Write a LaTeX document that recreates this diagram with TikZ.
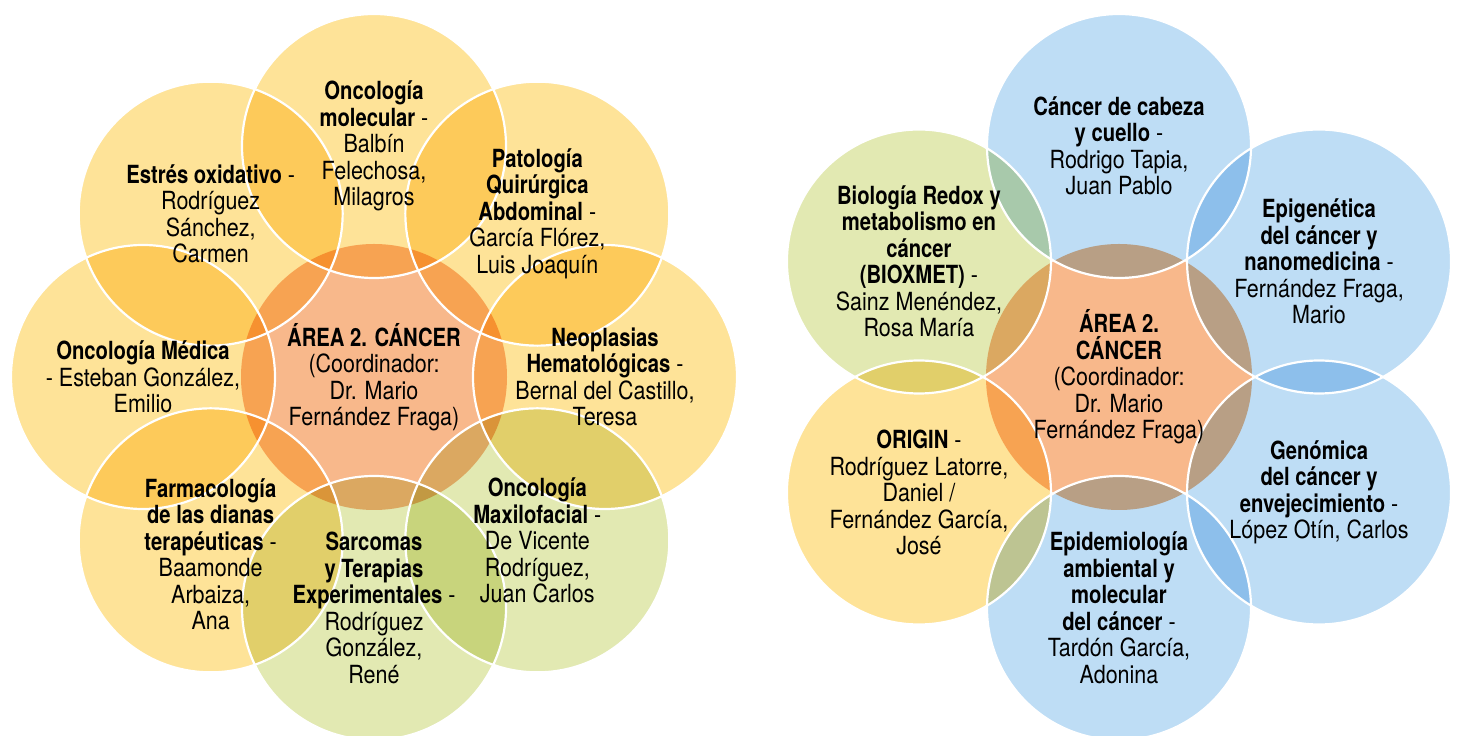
\documentclass[tikz,border=0pt]{standalone}
\usepackage{fontspec}
\setmainfont{TeX Gyre Heros}[UprightFeatures={FakeStretch=0.86},BoldFeatures={FakeStretch=0.81}]
\usetikzlibrary{positioning}
\definecolor{petalyellow}{HTML}{FEE398}
\definecolor{petalgreen}{HTML}{E2E9B2}
\definecolor{petalblue}{HTML}{BEDDF5}
\definecolor{huborange}{HTML}{F8B88B}
\tikzset{
  x=1pt, y=1pt,
  every node/.style={align=center, inner sep=0pt, font=\fontsize{25}{26.5}\selectfont},
  petal/.style={fill=#1, blend mode=multiply},
  rim/.style={draw=white, line width=2.2pt},
}
\newcommand{\petalr}{132}
\newcommand{\petald}{231}

\begin{document}
\begin{tikzpicture}
  \useasboundingbox (0,0) rectangle (1459,736);
  \coordinate (hubL) at (374,359);
  \coordinate (hubR) at (1119,359);
  \foreach \a [count=\i] in {90,45,0,-45,-90,-135,180,135}
    \path (hubL) ++(\a:\petald) coordinate (L\i);
  \foreach \a [count=\i] in {90,30,-30,-90,-150,150}
    \path (hubR) ++(\a:\petald) coordinate (R\i);

  \fill[petal=huborange] (hubL) circle[radius=133];
  \fill[petal=huborange] (hubR) circle[radius=133];
  \foreach \p/\c in {L1/petalyellow, L2/petalyellow, L3/petalyellow, L4/petalgreen,
                     L5/petalgreen, L6/petalyellow, L7/petalyellow, L8/petalyellow,
                     R1/petalblue, R2/petalblue, R3/petalblue, R4/petalblue,
                     R5/petalyellow, R6/petalgreen}
    \fill[petal=\c] (\p) circle[radius=\petalr];
  \foreach \p in {L1,L2,L3,L4,L5,L6,L7,L8,R1,R2,R3,R4,R5,R6}
    \draw[rim] (\p) circle[radius=\petalr];

  \node (tL0) at (hubL) {\textbf{ÁREA 2. CÁNCER}\\(Coordinador:\\Dr. Mario\\Fernández Fraga)};
  \node (tL1) at (L1) {\textbf{Oncología}\\\textbf{molecular} -\\Balbín\\Felechosa,\\Milagros};
  \node (tL2) at (L2) {\textbf{Patología}\\\textbf{Quirúrgica}\\\textbf{Abdominal} -\\García Flórez,\\Luis Joaquín};
  \node (tL3) at (L3) {\textbf{Neoplasias}\\\textbf{Hematológicas} -\\Bernal del Castillo,\\Teresa};
  \node (tL4) at (L4) {\textbf{Oncología}\\\textbf{Maxilofacial} -\\De Vicente\\Rodríguez,\\Juan Carlos};
  \node (tL5) at (L5) {\textbf{Sarcomas}\\\textbf{y Terapias}\\\textbf{Experimentales} -\\Rodríguez\\González,\\René};
  \node[yshift=-14] (tL6) at (L6) {\textbf{Farmacología}\\\textbf{de las dianas}\\\textbf{terapéuticas} -\\Baamonde\\Arbaiza,\\Ana};
  \node (tL7) at (L7) {\textbf{Oncología Médica}\\- Esteban González,\\Emilio};
  \node (tL8) at (L8) {\textbf{Estrés oxidativo} -\\Rodríguez\\Sánchez,\\Carmen};

  \node (tR0) at (hubR) {\textbf{ÁREA 2.}\\\textbf{CÁNCER}\\(Coordinador:\\Dr. Mario\\Fernández Fraga)};
  \node (tR1) at (R1) {\textbf{Cáncer de cabeza}\\\textbf{y cuello} -\\Rodrigo Tapia,\\Juan Pablo};
  \node (tR2) at (R2) {\textbf{Epigenética}\\\textbf{del cáncer y}\\\textbf{nanomedicina} -\\Fernández Fraga,\\Mario};
  \node (tR3) at (R3) {\textbf{Genómica}\\\textbf{del cáncer y}\\\textbf{envejecimiento} -\\López Otín, Carlos};
  \node (tR4) at (R4) {\textbf{Epidemiología}\\\textbf{ambiental y}\\\textbf{molecular}\\\textbf{del cáncer} -\\Tardón García,\\Adonina};
  \node (tR5) at (R5) {\textbf{ORIGIN} -\\Rodríguez Latorre,\\Daniel /\\Fernández García,\\José};
  \node (tR6) at (R6) {\textbf{Biología Redox y}\\\textbf{metabolismo en}\\\textbf{cáncer}\\\textbf{(BIOXMET)} -\\Sainz Menéndez,\\Rosa María};
\end{tikzpicture}
\end{document}
